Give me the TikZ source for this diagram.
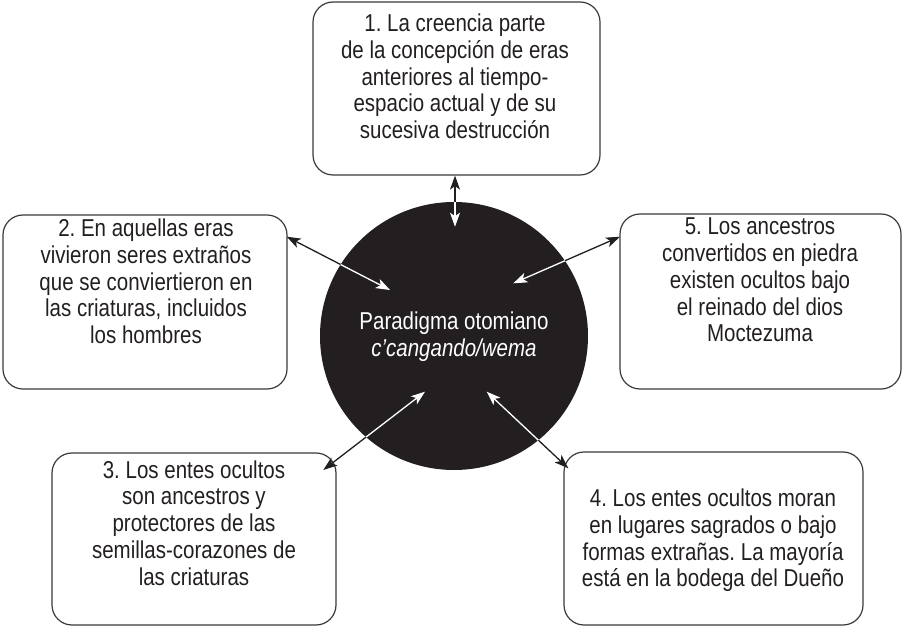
\documentclass[tikz,border=0pt]{standalone}
\usepackage{fontspec}
\setmainfont{Liberation Sans}[FakeStretch=0.84]
\usetikzlibrary{arrows.meta}
\definecolor{inkblack}{HTML}{231F20}
\definecolor{boxline}{HTML}{3A3A3A}
\newcommand{\boxtext}[1]{\fontsize{24.4}{26.7}\selectfont\frenchspacing\setlength{\tabcolsep}{0pt}\begin{tabular}[t]{c}#1\end{tabular}}
\begin{document}
\begin{tikzpicture}[x=1pt,y=-1pt,
  infobox/.style={draw=boxline, line width=1.2pt, rounded corners=20pt, inner sep=0pt},
  txt/.style={anchor=base, inner sep=0pt, text=inkblack},
  link/.style={{Stealth[length=14pt,width=10pt,inset=3.5pt]}-{Stealth[length=14pt,width=10pt,inset=3.5pt]}, line width=1.3pt}
]
\useasboundingbox (0,0) rectangle (903,628);
% central circle
\node[circle, fill=inkblack, minimum size=268pt, inner sep=0pt] (c) at (454,336) {};
\node[txt, text=white] (ctext) at (454,330) {\boxtext{Paradigma otomiano\\\itshape c’cangando/wema}};
% boxes
\node[infobox, minimum width=287pt, minimum height=173pt] (b1) at (456.5,88.5) {};
\node[infobox, minimum width=284pt, minimum height=174pt] (b2) at (145,302) {};
\node[infobox, minimum width=281pt, minimum height=175pt] (b5) at (760.5,301.5) {};
\node[infobox, minimum width=284pt, minimum height=172pt] (b3) at (194,539) {};
\node[infobox, minimum width=299pt, minimum height=173pt] (b4) at (713.5,538.5) {};
% texts
\node[txt] (t1) at (455,31.7) {\boxtext{1. La creencia parte\\de la concepción de eras\\anteriores al tiempo-\\espacio actual y de su\\sucesiva destrucción}};
\node[txt] (t2) at (146,236.7) {\boxtext{2. En aquellas eras\\vivieron seres extraños\\que se conviertieron en\\las criaturas, incluidos\\los hombres}};
\node[txt] (t5) at (760,235) {\boxtext{5. Los ancestros\\convertidos en piedra\\existen ocultos bajo\\el reinado del dios\\Moctezuma}};
\node[txt] (t3) at (194,478.3) {\boxtext{3. Los entes ocultos\\son ancestros y\\protectores de las\\semillas-corazones de\\las criaturas}};
\node[txt] (t4) at (713,506.7) {\boxtext{4. Los entes ocultos moran\\en lugares sagrados o bajo\\formas extrañas. La mayoría\\está en la bodega del Dueño}};
% arrow end points
\coordinate (p1o) at (b1.south -| 455,0);
\coordinate (p1i) at (455,226.7);
\coordinate (p2o) at (286.7,236.7);
\coordinate (p2i) at (390,290);
\coordinate (p5o) at (620,236.7);
\coordinate (p5i) at (513.3,283.3);
\coordinate (p3o) at (323.3,470);
\coordinate (p3i) at (425,391.7);
\coordinate (p4o) at (568.3,468.3);
\coordinate (p4i) at (486.7,391.7);
% arrows (black outside the circle)
\foreach \a/\b in {p1o/p1i,p2o/p2i,p5o/p5i,p3o/p3i,p4o/p4i}
  \draw[link, draw=inkblack, fill=inkblack] (\a) -- (\b);
% white parts inside the circle
\begin{scope}
  \clip (c.center) circle (134pt);
  \foreach \a/\b in {p1o/p1i,p2o/p2i,p5o/p5i,p3o/p3i,p4o/p4i}
    \draw[link, draw=white, fill=white] (\a) -- (\b);
\end{scope}
\end{tikzpicture}
\end{document}
